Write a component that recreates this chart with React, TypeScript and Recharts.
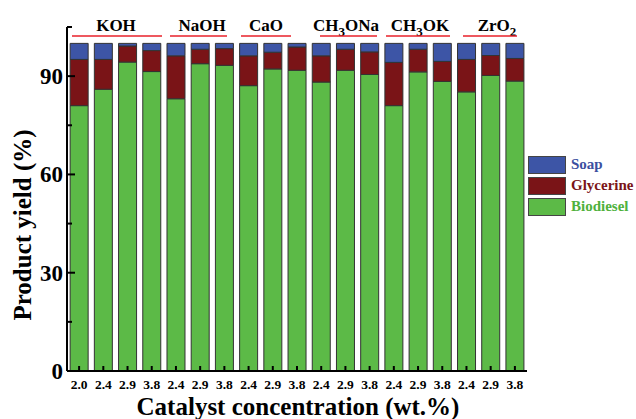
import { Bar, BarChart, XAxis, YAxis } from "recharts";

// catalyst concentration (wt.%) for each bar, grouped by catalyst
const concentrations = ["2.0", "2.4", "2.9", "3.8", "2.4", "2.9", "3.8", "2.4", "2.9", "3.8", "2.4", "2.9", "3.8", "2.4", "2.9", "3.8", "2.4", "2.9", "3.8"];
const biodiesel = [81.0, 86.0, 94.3, 91.4, 83.1, 93.8, 93.3, 87.1, 92.2, 91.8, 88.2, 91.8, 90.5, 81.0, 91.3, 88.4, 85.2, 90.2, 88.5];
const glycerine = [14.1, 9.1, 4.9, 6.4, 13.1, 4.4, 5.1, 9.1, 5.1, 7.1, 8.0, 6.4, 6.9, 13.2, 6.9, 6.1, 9.9, 6.1, 6.9];
const soap = [4.9, 4.9, 0.8, 2.2, 3.8, 1.8, 1.6, 3.8, 2.7, 1.1, 3.8, 1.8, 2.6, 5.8, 1.8, 5.5, 4.9, 3.7, 4.6];
const yTicks = [0, 15, 30, 45, 60, 75, 90, 105];

// catalyst group labels: main text, subscript, rest
const groups = [
  { pre: "KOH", sub: "", post: "" },
  { pre: "NaOH", sub: "", post: "" },
  { pre: "CaO", sub: "", post: "" },
  { pre: "CH", sub: "3", post: "ONa" },
  { pre: "CH", sub: "3", post: "OK" },
  { pre: "ZrO", sub: "2", post: "" },
];
// label centre and red underline extent (px)
const groupLayout = [
  { cx: 116, x1: 72, x2: 162 },
  { cx: 202, x1: 170, x2: 227 },
  { cx: 266, x1: 241, x2: 291 },
  { cx: 346, x1: 320, x2: 377 },
  { cx: 420, x1: 386, x2: 450 },
  { cx: 497, x1: 463, x2: 517 },
];

const SERIF = "Liberation Serif, Times New Roman, serif";
const COLORS = { soap: "#3d55a6", glycerine: "#7a1417", biodiesel: "#5cba47" };
const legendItems = [
  { name: "Soap", color: COLORS.soap, text: "#3b50a0" },
  { name: "Glycerine", color: COLORS.glycerine, text: "#7a1417" },
  { name: "Biodiesel", color: COLORS.biodiesel, text: "#4fb13d" },
];

const rows = concentrations.map((c, i) => ({
  idx: i,
  conc: c,
  Biodiesel: biodiesel[i],
  Glycerine: glycerine[i],
  Soap: soap[i],
}));

const AXIS_X = 67;

function YTick(props: any) {
  const { y, payload } = props;
  const v = payload.value as number;
  const major = v % 30 === 0;
  return (
    <g>
      <line x1={AXIS_X} x2={AXIS_X + (major ? 8 : 5)} y1={y} y2={y} stroke="#000" strokeWidth={2} />
      {major && (
        <text x={63} y={y} dy={8} textAnchor="end" fontFamily={SERIF} fontWeight="bold" fontSize={23} fill="#000">
          {v}
        </text>
      )}
    </g>
  );
}

function XTick(props: any) {
  const { x, y, payload } = props;
  return (
    <g>
      <line x1={x} x2={x} y1={y - 1} y2={y - 7} stroke="#000" strokeWidth={2} />
      <text x={x} y={y + 16} textAnchor="middle" fontFamily={SERIF} fontWeight="bold" fontSize={13.5} fill="#000">
        {concentrations[payload.value]}
      </text>
    </g>
  );
}

export default function App() {
  return (
    <div style={{ position: "absolute", left: 0, top: 0, width: 636, height: 419, background: "#fff" }}>
      <BarChart width={636} height={419} data={rows} margin={{ top: 27, right: 109, left: 0, bottom: 0 }} barCategoryGap="13%">
        <XAxis
          dataKey="idx"
          type="category"
          height={48}
          interval={0}
          tickSize={0}
          tickLine={false}
          axisLine={{ stroke: "#000", strokeWidth: 2 }}
          tick={<XTick />}
        />
        <YAxis
          width={AXIS_X}
          domain={[0, 105]}
          ticks={yTicks}
          interval={0}
          tickSize={0}
          tickLine={false}
          axisLine={{ stroke: "#000", strokeWidth: 2 }}
          tick={<YTick />}
        />
        <Bar dataKey="Biodiesel" stackId="s" fill={COLORS.biodiesel} stroke="#333" strokeWidth={1} isAnimationActive={false} />
        <Bar dataKey="Glycerine" stackId="s" fill={COLORS.glycerine} stroke="#333" strokeWidth={1} isAnimationActive={false} />
        <Bar dataKey="Soap" stackId="s" fill={COLORS.soap} stroke="#333" strokeWidth={1} isAnimationActive={false} />
      </BarChart>
      <div style={{ position: "absolute", left: 528, top: 154, fontFamily: SERIF, fontWeight: "bold", fontSize: 15 }}>
        {legendItems.map((it) => (
          <div key={it.name} style={{ display: "flex", alignItems: "center", height: 21 }}>
            <div style={{ width: 38, height: 18, background: it.color, border: "1px solid #444", boxSizing: "border-box" }} />
            <span style={{ color: it.text, marginLeft: 5 }}>{it.name}</span>
          </div>
        ))}
      </div>
      <svg width={636} height={419} style={{ position: "absolute", left: 0, top: 0, pointerEvents: "none" }}>
        {groups.map((g, i) => {
          const l = groupLayout[i];
          return (
            <g key={i}>
              <text x={l.cx} y={31} textAnchor="middle" fontFamily={SERIF} fontWeight="bold" fontSize={17} fill="#000">
                {g.pre}
                {g.sub && (
                  <tspan dy={5} fontSize={13}>
                    {g.sub}
                  </tspan>
                )}
                {g.post && <tspan dy={-5}>{g.post}</tspan>}
              </text>
              <line x1={l.x1} x2={l.x2} y1={36} y2={36} stroke="#e8202a" strokeWidth={1.5} />
            </g>
          );
        })}
        <text
          x={22}
          y={225}
          transform="rotate(-90 22 225)"
          textAnchor="middle"
          dominantBaseline="central"
          fontFamily={SERIF}
          fontWeight="bold"
          fontSize={25}
          fill="#000"
        >
          Product yield (%)
        </text>
        <text x={298} y={415} textAnchor="middle" fontFamily={SERIF} fontWeight="bold" fontSize={25} fill="#000">
          Catalyst concentration (wt.%)
        </text>
      </svg>
    </div>
  );
}
